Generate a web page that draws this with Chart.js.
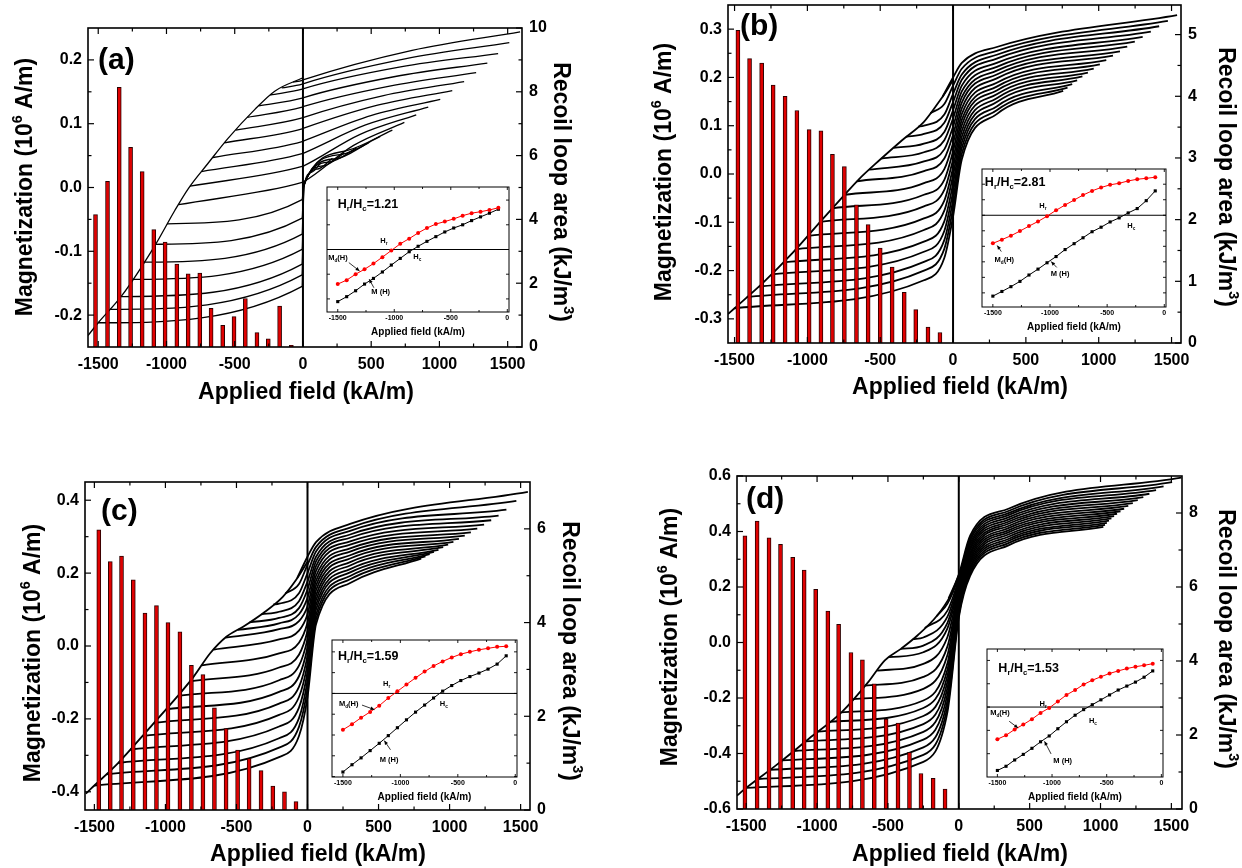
<!DOCTYPE html>
<html>
<head>
<meta charset="utf-8">
<title>Recoil loops</title>
<script src="https://cdn.jsdelivr.net/npm/chart.js@4.4.1/dist/chart.umd.min.js"></script>
<style>
html,body{margin:0;padding:0;background:#ffffff;}
#wrap{position:relative;width:1242px;height:868px;overflow:hidden;background:#ffffff;}
#wrap canvas{position:absolute;}
</style>
</head>
<body>
<div id="wrap"></div>
<script>
// ================= DATA =================
// shared tick labels
const xTickLabels = [-1500,-1000,-500,0,500,1000,1500];
const xMinorTicks = [-1250,-750,-250,250,750,1250];
const insetXTicks = [-1500,-1000,-500,0];
const insetXMinor = [-1250,-750,-250];

// ---- panel (a) ----
const yTicksA = [-0.2,-0.1,0,0.1,0.2];
const yMinorA = [-0.15,-0.05,0.05,0.15];
const y2TicksA = [0,2,4,6,8,10];
const y2MinorA = [1,3,5,7,9];
const barFieldA = [-1520,-1432,-1346,-1263,-1178,-1093,-1010,-924,-841,-756,-673,-588,-505,-422,-337,-254,-171,-85];
const barAreaA = [4.15,5.19,8.14,6.26,5.50,3.68,3.29,2.60,2.29,2.32,1.21,0.68,0.95,1.52,0.45,0.26,1.28,0.05];
const envelopeA = [[-1575,-0.232],[-1500,-0.212],[-1329,-0.170],[-1085,-0.091],[-939,-0.036],[-841,-0.002],[-695,0.038],[-549,0.077],[-354,0.122],[-207,0.151],[0,0.172]];
const loopsA = [
 [[-1500,-0.212],[-6,-0.155],[6,0.000],[65,0.024],[129,0.038]],
 [[-1416,-0.191],[-6,-0.137],[6,0.001],[108,0.029],[216,0.046]],
 [[-1332,-0.171],[-6,-0.120],[6,0.002],[152,0.034],[304,0.054]],
 [[-1248,-0.144],[-6,-0.097],[6,0.003],[196,0.040],[392,0.062]],
 [[-1164,-0.117],[-6,-0.073],[6,0.004],[240,0.045],[480,0.070]],
 [[-1080,-0.089],[-6,-0.048],[6,0.005],[283,0.052],[567,0.080]],
 [[-996,-0.057],[-6,-0.019],[6,0.006],[327,0.058],[655,0.090]],
 [[-912,-0.027],[-6,0.008],[6,0.009],[371,0.066],[743,0.102]],
 [[-828,0.002],[-6,0.033],[6,0.034],[415,0.083],[830,0.114]],
 [[-744,0.025],[-6,0.053],[6,0.054],[459,0.098],[918,0.126]],
 [[-660,0.047],[-6,0.072],[6,0.073],[503,0.113],[1006,0.138]],
 [[-576,0.070],[-6,0.092],[6,0.093],[547,0.129],[1094,0.152]],
 [[-492,0.090],[-6,0.109],[6,0.110],[590,0.144],[1181,0.166]],
 [[-408,0.110],[-6,0.126],[6,0.127],[635,0.159],[1269,0.180]],
 [[-324,0.128],[-6,0.140],[6,0.141],[676,0.174],[1351,0.195]],
 [[-240,0.145],[-6,0.154],[6,0.155],[715,0.189],[1430,0.210]],
 [[-156,0.156],[-6,0.162],[6,0.163],[756,0.202],[1512,0.227]],
 [[-72,0.165],[-6,0.168],[6,0.169],[800,0.215],[1591,0.244]]
];

// ---- panel (b) ----
const yTicksB = [-0.3,-0.2,-0.1,0,0.1,0.2,0.3];
const yMinorB = [-0.25,-0.15,-0.05,0.05,0.15,0.25];
const y2TicksB = [0,1,2,3,4,5];
const y2MinorB = [0.5,1.5,2.5,3.5,4.5];
const barFieldB = [-1477,-1397,-1314,-1235,-1153,-1072,-988,-907,-828,-746,-663,-583,-500,-418,-335,-256,-172,-90];
const barAreaB = [5.07,4.61,4.54,4.18,4.00,3.77,3.46,3.44,3.06,2.86,2.24,1.92,1.54,1.23,0.82,0.54,0.26,0.17];
const envelopeB = [[-1545,-0.290],[-1500,-0.278],[-1300,-0.224],[-1100,-0.163],[-900,-0.095],[-750,-0.045],[-650,-0.012],[-500,0.030],[-350,0.070],[-200,0.108],[-100,0.148],[-50,0.170],[0,0.195]];
const loopsB = [
 [[-1500,-0.278],[-200,-0.220],[-60,-0.174],[0,-0.088],[60,0.030],[300,0.124],[756,0.172]],
 [[-1416,-0.255],[-200,-0.200],[-60,-0.155],[0,-0.071],[60,0.042],[300,0.132],[786,0.179]],
 [[-1332,-0.233],[-200,-0.182],[-60,-0.137],[0,-0.054],[60,0.054],[300,0.140],[818,0.186]],
 [[-1248,-0.208],[-200,-0.161],[-60,-0.118],[0,-0.037],[60,0.065],[300,0.149],[852,0.194]],
 [[-1164,-0.183],[-200,-0.140],[-60,-0.098],[0,-0.020],[60,0.077],[300,0.157],[888,0.202]],
 [[-1080,-0.156],[-200,-0.116],[-60,-0.076],[0,-0.003],[60,0.089],[300,0.165],[926,0.210]],
 [[-996,-0.128],[-200,-0.092],[-60,-0.055],[0,0.013],[60,0.101],[300,0.173],[966,0.218]],
 [[-912,-0.099],[-200,-0.067],[-60,-0.033],[0,0.030],[60,0.112],[300,0.181],[1008,0.227]],
 [[-828,-0.071],[-200,-0.043],[-60,-0.012],[0,0.047],[60,0.124],[300,0.189],[1052,0.236]],
 [[-744,-0.043],[-200,-0.019],[-60,0.010],[0,0.064],[60,0.136],[300,0.198],[1098,0.245]],
 [[-660,-0.015],[-200,0.006],[-60,0.032],[0,0.081],[60,0.148],[300,0.206],[1146,0.254]],
 [[-576,0.009],[-200,0.026],[-60,0.051],[0,0.098],[60,0.159],[300,0.214],[1196,0.264]],
 [[-492,0.032],[-200,0.045],[-60,0.070],[0,0.115],[60,0.171],[300,0.222],[1248,0.274]],
 [[-408,0.054],[-200,0.063],[-60,0.087],[0,0.132],[60,0.183],[300,0.230],[1302,0.284]],
 [[-324,0.077],[-200,0.083],[-60,0.106],[0,0.149],[60,0.195],[300,0.239],[1358,0.295]],
 [[-240,0.098],[-200,0.100],[-60,0.123],[0,0.166],[60,0.206],[300,0.247],[1415,0.306]],
 [[-156,0.126],[-60,0.145],[0,0.183],[60,0.218],[300,0.255],[1475,0.317]],
 [[-72,0.160],[0,0.200],[60,0.230],[300,0.263],[1538,0.329]]
];

// ---- panel (c) ----
const yTicksC = [-0.4,-0.2,0,0.2,0.4];
const yMinorC = [-0.3,-0.1,0.1,0.3];
const y2TicksC = [0,2,4,6];
const y2MinorC = [1,3,5];
const barFieldC = [-1469,-1388,-1309,-1226,-1144,-1063,-982,-898,-817,-736,-655,-573,-492,-411,-327,-244,-162,-81];
const barAreaC = [5.98,5.30,5.42,4.91,4.20,4.36,4.00,3.80,3.09,2.89,2.18,1.74,1.28,1.10,0.84,0.51,0.39,0.18];
const envelopeC = [[-1560,-0.405],[-1520,-0.390],[-1335,-0.322],[-1103,-0.221],[-917,-0.139],[-801,-0.084],[-685,-0.020],[-569,0.026],[-453,0.053],[-313,0.090],[-174,0.135],[-81,0.181],[0,0.231]];
const loopsC = [
 [[-1500,-0.383],[-200,-0.305],[-60,-0.247],[0,-0.140],[60,0.060],[300,0.173],[800,0.240]],
 [[-1416,-0.352],[-200,-0.279],[-60,-0.222],[0,-0.117],[60,0.073],[300,0.183],[830,0.246]],
 [[-1332,-0.321],[-200,-0.253],[-60,-0.198],[0,-0.095],[60,0.086],[300,0.192],[860,0.252]],
 [[-1248,-0.284],[-200,-0.221],[-60,-0.169],[0,-0.072],[60,0.100],[300,0.202],[890,0.258]],
 [[-1164,-0.247],[-200,-0.189],[-60,-0.140],[0,-0.049],[60,0.113],[300,0.211],[922,0.264]],
 [[-1080,-0.211],[-200,-0.158],[-60,-0.112],[0,-0.027],[60,0.126],[300,0.221],[955,0.271]],
 [[-996,-0.174],[-200,-0.126],[-60,-0.083],[0,-0.004],[60,0.139],[300,0.230],[990,0.278]],
 [[-912,-0.137],[-200,-0.094],[-60,-0.054],[0,0.019],[60,0.153],[300,0.240],[1027,0.286]],
 [[-828,-0.097],[-200,-0.059],[-60,-0.024],[0,0.041],[60,0.166],[300,0.249],[1066,0.294]],
 [[-744,-0.053],[-200,-0.020],[-60,0.009],[0,0.064],[60,0.179],[300,0.259],[1107,0.303]],
 [[-660,-0.010],[-200,0.018],[-60,0.042],[0,0.087],[60,0.192],[300,0.268],[1150,0.312]],
 [[-576,0.023],[-200,0.046],[-60,0.068],[0,0.109],[60,0.206],[300,0.278],[1195,0.322]],
 [[-492,0.044],[-200,0.062],[-60,0.087],[0,0.132],[60,0.219],[300,0.287],[1243,0.333]],
 [[-408,0.065],[-200,0.077],[-60,0.104],[0,0.155],[60,0.232],[300,0.297],[1293,0.345]],
 [[-324,0.087],[-200,0.094],[-60,0.123],[0,0.177],[60,0.245],[300,0.306],[1345,0.358]],
 [[-240,0.114],[-200,0.116],[-60,0.145],[0,0.200],[60,0.259],[300,0.316],[1400,0.374]],
 [[-156,0.144],[-60,0.170],[0,0.223],[60,0.272],[300,0.325],[1470,0.398]],
 [[-72,0.187],[0,0.245],[60,0.285],[300,0.335],[1551,0.423]]
];

// ---- panel (d) ----
const yTicksD = [-0.6,-0.4,-0.2,0,0.2,0.4,0.6];
const yMinorD = [-0.5,-0.3,-0.1,0.1,0.3,0.5];
const y2TicksD = [0,2,4,6,8];
const y2MinorD = [1,3,5,7];
const barFieldD = [-1509,-1423,-1339,-1258,-1172,-1091,-1010,-924,-848,-761,-680,-596,-513,-429,-348,-267,-181,-97];
const barAreaD = [7.38,7.78,7.33,7.15,6.80,6.46,5.94,5.35,4.99,4.23,4.03,3.38,2.43,2.32,1.53,0.96,0.83,0.54];
const envelopeD = [[-1565,-0.552],[-1520,-0.532],[-1288,-0.442],[-1056,-0.346],[-824,-0.250],[-638,-0.142],[-522,-0.064],[-406,-0.022],[-290,0.026],[-151,0.098],[-58,0.170],[0,0.242]];
const loopsD = [
 [[-1500,-0.524],[-250,-0.430],[-80,-0.251],[0,0.090],[80,0.240],[350,0.350],[1020,0.417]],
 [[-1416,-0.492],[-250,-0.405],[-80,-0.230],[0,0.099],[80,0.249],[350,0.358],[1032,0.424]],
 [[-1332,-0.459],[-250,-0.378],[-80,-0.209],[0,0.108],[80,0.257],[350,0.366],[1045,0.431]],
 [[-1248,-0.425],[-250,-0.350],[-80,-0.187],[0,0.117],[80,0.266],[350,0.373],[1060,0.439]],
 [[-1164,-0.391],[-250,-0.322],[-80,-0.164],[0,0.126],[80,0.274],[350,0.381],[1077,0.447]],
 [[-1080,-0.356],[-250,-0.294],[-80,-0.142],[0,0.136],[80,0.283],[350,0.389],[1096,0.455]],
 [[-996,-0.321],[-250,-0.265],[-80,-0.120],[0,0.145],[80,0.291],[350,0.397],[1117,0.464]],
 [[-912,-0.286],[-250,-0.236],[-80,-0.097],[0,0.154],[80,0.300],[350,0.404],[1141,0.473]],
 [[-828,-0.252],[-250,-0.209],[-80,-0.075],[0,0.163],[80,0.308],[350,0.412],[1167,0.482]],
 [[-744,-0.204],[-250,-0.167],[-80,-0.045],[0,0.172],[80,0.317],[350,0.420],[1196,0.492]],
 [[-660,-0.155],[-250,-0.124],[-80,-0.014],[0,0.181],[80,0.325],[350,0.428],[1228,0.502]],
 [[-576,-0.101],[-250,-0.077],[-80,0.020],[0,0.190],[80,0.334],[350,0.435],[1263,0.513]],
 [[-492,-0.053],[-250,-0.035],[-80,0.051],[0,0.199],[80,0.342],[350,0.443],[1302,0.524]],
 [[-408,-0.023],[-250,-0.011],[-80,0.071],[0,0.209],[80,0.351],[350,0.451],[1345,0.536]],
 [[-324,0.012],[-250,0.018],[-80,0.093],[0,0.218],[80,0.359],[350,0.459],[1392,0.549]],
 [[-240,0.052],[-80,0.115],[0,0.227],[80,0.368],[350,0.466],[1445,0.563]],
 [[-156,0.095],[-80,0.140],[0,0.236],[80,0.376],[350,0.474],[1505,0.578]],
 [[-72,0.159],[0,0.245],[80,0.385],[350,0.482],[1571,0.594]]
];

// ---- insets: M_d(H) (red) and M(H) (black) ----
const insetField = [-1500,-1421,-1342,-1263,-1184,-1105,-1026,-947,-868,-789,-711,-632,-553,-474,-395,-316,-237,-158,-79];
const mdA = [-1.40,-1.24,-1.00,-0.80,-0.57,-0.31,-0.04,0.23,0.44,0.67,0.87,1.03,1.13,1.24,1.37,1.47,1.53,1.60,1.69];
const mA  = [-2.11,-1.91,-1.67,-1.40,-1.17,-0.91,-0.63,-0.36,-0.09,0.13,0.33,0.52,0.71,0.87,1.00,1.17,1.32,1.47,1.63];
const mdB = [-1.81,-1.57,-1.32,-1.02,-0.70,-0.40,-0.06,0.32,0.66,0.98,1.30,1.57,1.79,1.96,2.06,2.21,2.32,2.38,2.45];
const mB  = [-5.21,-4.91,-4.60,-4.26,-3.85,-3.47,-3.06,-2.66,-2.21,-1.83,-1.45,-1.06,-0.77,-0.43,-0.17,0.15,0.43,0.94,1.57];
const mdC = [-1.75,-1.48,-1.17,-0.89,-0.59,-0.22,0.10,0.43,0.75,1.05,1.32,1.54,1.73,1.89,2.00,2.10,2.17,2.24,2.27];
const mC  = [-3.78,-3.43,-3.10,-2.75,-2.40,-2.03,-1.65,-1.27,-0.90,-0.56,-0.22,0.11,0.38,0.62,0.81,0.98,1.17,1.41,1.81];
const mdD = [-1.38,-1.21,-0.96,-0.75,-0.52,-0.25,-0.04,0.24,0.52,0.73,0.97,1.15,1.30,1.44,1.55,1.65,1.73,1.79,1.86];
const mD  = [-2.72,-2.54,-2.27,-2.03,-1.77,-1.49,-1.24,-0.93,-0.63,-0.35,-0.11,0.10,0.31,0.52,0.73,0.90,1.07,1.28,1.55];
const insetYTicksA = [-2,-1,0,1,2];
const insetYTicksB = [-5,-4,-3,-2,-1,0,1,2];
const insetYTicksC = [-4,-3,-2,-1,0,1,2];
const insetYTicksD = [-2,-1,0,1,2];
const ratioLabels = ['1.21','2.81','1.59','1.53'];

// ================= LAYOUT / STYLE =================
const FONT = "'Liberation Sans', Arial, Helvetica, sans-serif";
Chart.defaults.font.family = FONT;
Chart.defaults.color = '#000';
const wrap = document.getElementById('wrap');

const panels = [
 {canvas:{x:0,y:0,w:621,h:434}, frame:{l:88,r:522,t:28,b:347}, xr:[-1575,1605], yr:[-0.25,0.25], y2r:[0,10],
  yTicks:yTicksA, yMinor:yMinorA, y2Ticks:y2TicksA, y2Minor:y2MinorA, barField:barFieldA, bars:barAreaA, env:envelopeA, loops:loopsA,
  leftTitle:[26,187], rightTitle:[560,192], bottomTitle:[306,393], tag:'(a)', tagPos:[98,61], lw:1.3},
 {canvas:{x:621,y:0,w:621,h:434}, frame:{l:728,r:1181,t:5,b:343}, xr:[-1545,1565], yr:[-0.35,0.35], y2r:[0,5.48],
  yTicks:yTicksB, yMinor:yMinorB, y2Ticks:y2TicksB, y2Minor:y2MinorB, barField:barFieldB, bars:barAreaB, env:envelopeB, loops:loopsB,
  leftTitle:[665,172], rightTitle:[1225,177], bottomTitle:[960,388], tag:'(b)', tagPos:[740,27], lw:1.8},
 {canvas:{x:0,y:434,w:621,h:434}, frame:{l:85,r:530,t:482,b:810}, xr:[-1566,1566], yr:[-0.45,0.45], y2r:[0,7],
  yTicks:yTicksC, yMinor:yMinorC, y2Ticks:y2TicksC, y2Minor:y2MinorC, barField:barFieldC, bars:barAreaC, env:envelopeC, loops:loopsC,
  leftTitle:[34,653], rightTitle:[569,651], bottomTitle:[318,855], tag:'(c)', tagPos:[101,512], lw:1.8},
 {canvas:{x:621,y:434,w:621,h:434}, frame:{l:737,r:1182,t:476,b:809}, xr:[-1565,1575], yr:[-0.6,0.6], y2r:[0,9],
  yTicks:yTicksD, yMinor:yMinorD, y2Ticks:y2TicksD, y2Minor:y2MinorD, barField:barFieldD, bars:barAreaD, env:envelopeD, loops:loopsD,
  leftTitle:[671,637], rightTitle:[1225,639], bottomTitle:[960,855], tag:'(d)', tagPos:[746,500], lw:1.8}
];

const insets = [
 {box:{l:327,r:509,t:185,b:312}, yr:[-2.53,2.53], md:mdA, m:mA, yTicks:insetYTicksA, ratio:ratioLabels[0],
  ratioPos:[-1500,1.83], hrPos:[-1123,0.33], hcPos:[-832,-0.31], mdPos:[-1585,-0.36], mdArrow:[[-1402,-0.53],[-1307,-0.87]],
  mPos:[-1203,-1.73], mArrow:[[-1180,-1.55],[-1222,-1.2]]},
 {box:{l:982,r:1166,t:167,b:307}, yr:[-5.91,2.98], md:mdB, m:mB, yTicks:insetYTicksB, ratio:ratioLabels[1],
  ratioPos:[-1570,2.13], hrPos:[-1094,0.57], hcPos:[-324,-0.70], mdPos:[-1485,-2.87], mdArrow:[[-1426,-2.34],[-1462,-1.95]],
  mPos:[-994,-3.79], mArrow:[[-941,-3.36],[-990,-2.98]]},
 {box:{l:332,r:517,t:638,b:777}, yr:[-4.02,2.57], md:mdC, m:mC, yTicks:insetYTicksC, ratio:ratioLabels[2],
  ratioPos:[-1543,1.78], hrPos:[-1151,0.46], hcPos:[-657,-0.49], mdPos:[-1534,-0.49], mdArrow:[[-1334,-0.56],[-1225,-0.78]],
  mPos:[-1180,-3.22], mArrow:[[-1086,-2.71],[-1140,-2.27]]},
 {box:{l:987,r:1163,t:647,b:777}, yr:[-3.0,2.49], md:mdD, m:mD, yTicks:insetYTicksD, ratio:ratioLabels[3],
  ratioPos:[-1491,1.65], hrPos:[-1114,0.15], hcPos:[-663,-0.61], mdPos:[-1566,-0.25], mdArrow:[[-1392,-0.61],[-1310,-0.90]],
  mPos:[-988,-2.32], mArrow:[[-1009,-2.01],[-1069,-1.47]]}
];

// ================= HELPERS =================
function drawRich(ctx, parts, x, y, size, rot, align) {
  ctx.save();
  ctx.translate(x, y);
  ctx.rotate(rot);
  ctx.fillStyle = '#000';
  ctx.textBaseline = 'middle';
  ctx.textAlign = 'left';
  const fonts = parts.map(p => 'bold ' + (p[1] === 'n' ? size : size * 0.62).toFixed(1) + 'px ' + FONT);
  let w = 0;
  parts.forEach((p, i) => { ctx.font = fonts[i]; w += ctx.measureText(p[0]).width; });
  let cx = align === 'left' ? 0 : -w / 2;
  parts.forEach((p, i) => {
    ctx.font = fonts[i];
    const dy = p[1] === 'sup' ? -size * 0.36 : (p[1] === 'sub' ? size * 0.36 : 0);
    ctx.fillText(p[0], cx, dy);
    cx += ctx.measureText(p[0]).width;
  });
  ctx.restore();
}
function seg(ctx, x1, y1, x2, y2) { ctx.beginPath(); ctx.moveTo(x1, y1); ctx.lineTo(x2, y2); ctx.stroke(); }
function arrow(ctx, x1, y1, x2, y2) {
  seg(ctx, x1, y1, x2, y2);
  const a = Math.atan2(y2 - y1, x2 - x1), L = 4, W = 1.8;
  ctx.beginPath();
  ctx.moveTo(x2, y2);
  ctx.lineTo(x2 - L * Math.cos(a) + W * Math.sin(a), y2 - L * Math.sin(a) - W * Math.cos(a));
  ctx.lineTo(x2 - L * Math.cos(a) - W * Math.sin(a), y2 - L * Math.sin(a) + W * Math.cos(a));
  ctx.closePath(); ctx.fill();
}
function noPadV(s) { s.paddingTop = 0; s.paddingBottom = 0; }
function noPadH(s) { s.paddingLeft = 0; s.paddingRight = 0; }

function mainDeco(P) {
  return {
    id: 'mainDeco',
    afterDatasetsDraw(chart) {
      const ctx = chart.ctx, a = chart.chartArea, sx = chart.scales.x, sy = chart.scales.y, s2 = chart.scales.y2;
      ctx.save();
      ctx.strokeStyle = '#000';
      const x0 = sx.getPixelForValue(0);
      ctx.lineWidth = 2;
      seg(ctx, x0, a.top, x0, a.bottom);
      ctx.lineWidth = 1.2;
      const MAJ = 6, MIN = 3.5;
      xTickLabels.forEach(v => { const x = sx.getPixelForValue(v); seg(ctx, x, a.bottom, x, a.bottom - MAJ); seg(ctx, x, a.top, x, a.top + MAJ); });
      xMinorTicks.forEach(v => { const x = sx.getPixelForValue(v); seg(ctx, x, a.bottom, x, a.bottom - MIN); seg(ctx, x, a.top, x, a.top + MIN); });
      P.yTicks.forEach(v => { const y = sy.getPixelForValue(v); seg(ctx, a.left, y, a.left + MAJ, y); });
      P.yMinor.forEach(v => { const y = sy.getPixelForValue(v); seg(ctx, a.left, y, a.left + MIN, y); });
      P.y2Ticks.forEach(v => { const y = s2.getPixelForValue(v); seg(ctx, a.right, y, a.right - MAJ, y); });
      P.y2Minor.forEach(v => { const y = s2.getPixelForValue(v); seg(ctx, a.right, y, a.right - MIN, y); });
      ctx.lineWidth = 1.6;
      ctx.strokeRect(a.left, a.top, a.right - a.left, a.bottom - a.top);
      ctx.restore();
    },
    afterDraw(chart) {
      const ctx = chart.ctx, ox = P.canvas.x, oy = P.canvas.y;
      drawRich(ctx, [['Magnetization (10', 'n'], ['6', 'sup'], [' A/m)', 'n']], P.leftTitle[0] - ox, P.leftTitle[1] - oy, 23, -Math.PI / 2, 'center');
      drawRich(ctx, [['Recoil loop area (kJ/m', 'n'], ['3', 'sup'], [')', 'n']], P.rightTitle[0] - ox, P.rightTitle[1] - oy, 23, Math.PI / 2, 'center');
      drawRich(ctx, [['Applied field (kA/m)', 'n']], P.bottomTitle[0] - ox, P.bottomTitle[1] - oy, 23, 0, 'center');
      drawRich(ctx, [[P.tag, 'n']], P.tagPos[0] - ox, P.tagPos[1] - oy, 30, 0, 'left');
    }
  };
}

function buildMain(P) {
  const cv = document.createElement('canvas');
  cv.width = P.canvas.w; cv.height = P.canvas.h;
  cv.style.left = P.canvas.x + 'px'; cv.style.top = P.canvas.y + 'px';
  cv.style.width = P.canvas.w + 'px'; cv.style.height = P.canvas.h + 'px';
  wrap.appendChild(cv);
  const L = P.frame.l - P.canvas.x, R = P.canvas.x + P.canvas.w - P.frame.r;
  const T = P.frame.t - P.canvas.y, B = P.canvas.y + P.canvas.h - P.frame.b;
  const datasets = [];
  datasets.push({type: 'bar', data: P.barField.map((h, i) => ({x: h, y: P.bars[i]})), yAxisID: 'y2', xAxisID: 'x',
    backgroundColor: '#e00000', borderColor: '#2a0000', borderWidth: 1, barThickness: 4, order: 0});
  const lineStyle = {type: 'line', yAxisID: 'y', xAxisID: 'x', borderColor: '#000', borderWidth: P.lw, pointRadius: 0,
    fill: false, cubicInterpolationMode: 'monotone', order: 1};
  datasets.push(Object.assign({data: P.env.map(p => ({x: p[0], y: p[1]}))}, lineStyle));
  P.loops.forEach(lp => datasets.push(Object.assign({data: lp.map(p => ({x: p[0], y: p[1]}))}, lineStyle)));
  const tickFont = {family: FONT, size: 16, weight: 'bold'};
  new Chart(cv, {
    type: 'line',
    data: {datasets},
    options: {
      responsive: false, animation: false, devicePixelRatio: 1, events: [],
      layout: {padding: {top: T, left: 0, right: 0, bottom: 0}},
      plugins: {legend: {display: false}, tooltip: {enabled: false}},
      scales: {
        x: {type: 'linear', min: P.xr[0], max: P.xr[1], offset: false,
          grid: {display: false, drawTicks: false, offset: false}, border: {display: false},
          ticks: {font: tickFont, color: '#000', padding: 8, autoSkip: false, maxRotation: 0, minRotation: 0, callback: v => String(v)},
          afterBuildTicks: s => { s.ticks = xTickLabels.map(v => ({value: v})); },
          afterFit: s => { s.height = B; noPadH(s); }},
        y: {type: 'linear', position: 'left', min: P.yr[0], max: P.yr[1],
          grid: {display: false, drawTicks: false}, border: {display: false},
          ticks: {font: tickFont, color: '#000', padding: 6, autoSkip: false, callback: v => Number(v).toFixed(1)},
          afterBuildTicks: s => { s.ticks = P.yTicks.map(v => ({value: v})); },
          afterFit: s => { s.width = L; noPadV(s); }},
        y2: {type: 'linear', position: 'right', min: P.y2r[0], max: P.y2r[1],
          grid: {display: false, drawTicks: false}, border: {display: false},
          ticks: {font: tickFont, color: '#000', padding: 7, autoSkip: false, callback: v => String(v)},
          afterBuildTicks: s => { s.ticks = P.y2Ticks.map(v => ({value: v})); },
          afterFit: s => { s.width = R; noPadV(s); }}
      }
    },
    plugins: [mainDeco(P)]
  });
}

function insetDeco(I) {
  return {
    id: 'insetDeco',
    beforeDatasetsDraw(chart) {
      const ctx = chart.ctx, a = chart.chartArea, sy = chart.scales.y;
      ctx.save();
      ctx.fillStyle = '#fff';
      ctx.fillRect(a.left, a.top, a.right - a.left, a.bottom - a.top);
      ctx.strokeStyle = '#000'; ctx.lineWidth = 1;
      const y0 = sy.getPixelForValue(0);
      seg(ctx, a.left, y0, a.right, y0);
      ctx.restore();
    },
    afterDatasetsDraw(chart) {
      const ctx = chart.ctx, a = chart.chartArea, sx = chart.scales.x, sy = chart.scales.y;
      ctx.save();
      ctx.strokeStyle = '#000'; ctx.fillStyle = '#000'; ctx.lineWidth = 0.9;
      insetXTicks.forEach(v => { const x = sx.getPixelForValue(v); seg(ctx, x, a.bottom, x, a.bottom - 3); seg(ctx, x, a.top, x, a.top + 3); });
      insetXMinor.forEach(v => { const x = sx.getPixelForValue(v); seg(ctx, x, a.bottom, x, a.bottom - 2); seg(ctx, x, a.top, x, a.top + 2); });
      I.yTicks.forEach(v => { const y = sy.getPixelForValue(v); seg(ctx, a.left, y, a.left + 3, y); seg(ctx, a.right, y, a.right - 3, y); });
      ctx.lineWidth = 1;
      ctx.strokeRect(a.left, a.top, a.right - a.left, a.bottom - a.top);
      const px = p => [sx.getPixelForValue(p[0]), sy.getPixelForValue(p[1])];
      let p = px(I.ratioPos);
      drawRich(ctx, [['H', 'n'], ['r', 'sub'], ['/H', 'n'], ['c', 'sub'], ['=' + I.ratio, 'n']], p[0], p[1], 12.5, 0, 'left');
      p = px(I.hrPos); drawRich(ctx, [['H', 'n'], ['r', 'sub']], p[0], p[1], 7.5, 0, 'left');
      p = px(I.hcPos); drawRich(ctx, [['H', 'n'], ['c', 'sub']], p[0], p[1], 7.5, 0, 'left');
      p = px(I.mdPos); drawRich(ctx, [['M', 'n'], ['d', 'sub'], ['(H)', 'n']], p[0], p[1], 7.5, 0, 'left');
      p = px(I.mPos); drawRich(ctx, [['M (H)', 'n']], p[0], p[1], 7.5, 0, 'left');
      ctx.lineWidth = 0.8;
      let s = px(I.mdArrow[0]), e = px(I.mdArrow[1]); arrow(ctx, s[0], s[1], e[0], e[1]);
      s = px(I.mArrow[0]); e = px(I.mArrow[1]); arrow(ctx, s[0], s[1], e[0], e[1]);
      ctx.restore();
    }
  };
}

function buildInset(I) {
  const padL = 10, padR = 10, padT = 2, B = 26;
  const bw = I.box.r - I.box.l, bh = I.box.b - I.box.t;
  const cv = document.createElement('canvas');
  cv.width = bw + padL + padR; cv.height = bh + padT + B;
  cv.style.left = (I.box.l - padL) + 'px'; cv.style.top = (I.box.t - padT) + 'px';
  cv.style.width = cv.width + 'px'; cv.style.height = cv.height + 'px';
  wrap.appendChild(cv);
  new Chart(cv, {
    type: 'line',
    data: {datasets: [
      {data: insetField.map((h, i) => ({x: h, y: I.md[i]})), borderColor: '#ff0000', backgroundColor: '#ff0000',
        borderWidth: 1, pointRadius: 2, pointStyle: 'circle', pointBorderWidth: 0, fill: false},
      {data: insetField.map((h, i) => ({x: h, y: I.m[i]})), borderColor: '#000', backgroundColor: '#000',
        borderWidth: 1, pointRadius: 2.2, pointStyle: 'rect', pointBorderWidth: 0, fill: false}
    ]},
    options: {
      responsive: false, animation: false, devicePixelRatio: 1, events: [],
      layout: {padding: {left: padL, right: padR, top: padT, bottom: 0}},
      plugins: {legend: {display: false}, tooltip: {enabled: false}},
      scales: {
        x: {type: 'linear', min: -1595, max: 15, offset: false,
          grid: {display: false, drawTicks: false}, border: {display: false},
          ticks: {font: {family: FONT, size: 7, weight: 'bold'}, color: '#000', padding: 2, autoSkip: false, maxRotation: 0, minRotation: 0, callback: v => String(v)},
          afterBuildTicks: s => { s.ticks = insetXTicks.map(v => ({value: v})); },
          title: {display: true, text: 'Applied field (kA/m)', color: '#000', font: {family: FONT, size: 10, weight: 'bold'}, padding: {top: 1, bottom: 0}},
          afterFit: s => { s.height = B; noPadH(s); }},
        y: {display: false, min: I.yr[0], max: I.yr[1]}
      }
    },
    plugins: [insetDeco(I)]
  });
}

panels.forEach(buildMain);
insets.forEach(buildInset);
</script>
</body>
</html>
